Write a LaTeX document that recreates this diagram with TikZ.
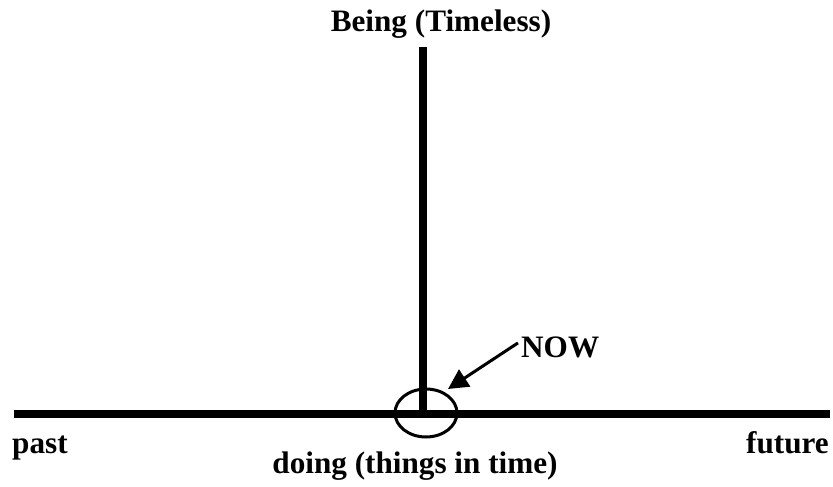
\documentclass[tikz,border=0pt]{standalone}
\usepackage{fontspec}
\setmainfont{Liberation Serif}
\usetikzlibrary{arrows.meta}
\begin{document}
\begin{tikzpicture}[x=1pt, y=-1pt, line cap=butt, font=\fontsize{31.2}{36}\selectfont\bfseries]
    \useasboundingbox (0,0) rectangle (833,487);
    \coordinate (left) at (14,414);
    \coordinate (right) at (830,414);
    \coordinate (now) at (423,414);
    \coordinate (top) at (423,47);
    \draw[line width=8pt] (left) -- (right);
    \draw[line width=8pt] (now) -- (top);
    \draw[line width=3pt] (426,413) ellipse[x radius=31, y radius=24];
    \node[anchor=base west, inner sep=0pt] (past) at (12,453) {past};
    \node[anchor=base east, inner sep=0pt] (future) at (829,453) {future};
    \node[anchor=base, inner sep=0pt] (being) at (441,32) {Being (Timeless)};
    \node[anchor=base, inner sep=0pt] (doing) at (415,473) {doing (things in time)};
    \node[anchor=base west, inner sep=0pt] (nowlabel) at (521,357) {NOW};
    \draw[line width=3pt, -{Triangle[length=20pt, width=20pt]}] (nowlabel.west) ++(-3,-4) coordinate (tail) -- (448,389);
\end{tikzpicture}
\end{document}
